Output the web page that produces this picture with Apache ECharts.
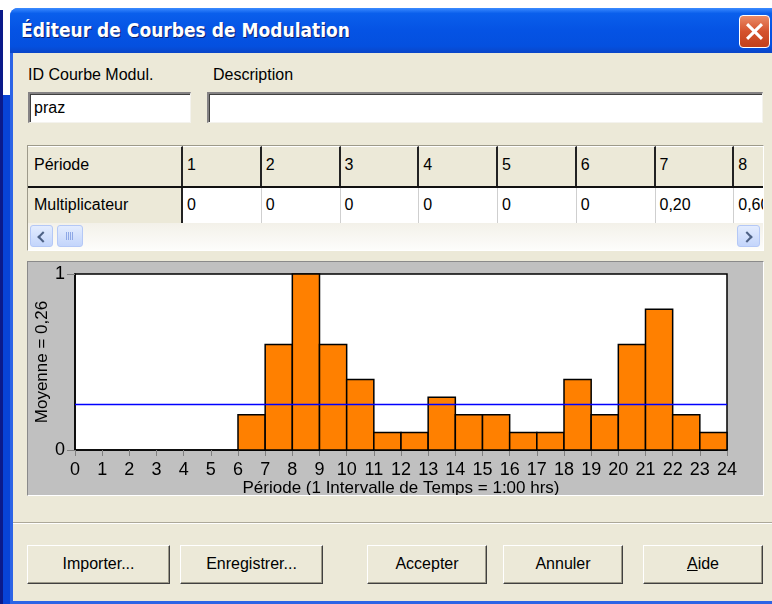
<!DOCTYPE html>
<html>
<head>
<meta charset="utf-8">
<title>Éditeur de Courbes de Modulation</title>
<script src="https://cdn.jsdelivr.net/npm/echarts@6/dist/echarts.min.js"></script>
<style>
  body { margin: 0; width: 772px; height: 604px; overflow: hidden; background: #fff; position: relative;
         font-family: "Liberation Sans", Arial, sans-serif; font-size: 16px; color: #000; }
  .abs { position: absolute; }
  .lbl { position: absolute; line-height: 20px; white-space: nowrap; }
  .field { position: absolute; background: #fff; box-sizing: border-box;
           border-top: 2px solid #848284; border-left: 2px solid #848284;
           border-bottom: 1px solid #f4f3ee; border-right: 1px solid #f4f3ee;
           box-shadow: inset 1px 1px #404040; padding: 5px 4px; }
  .cell { position: absolute; box-sizing: border-box; padding: 0 6px; line-height: 20px;
          white-space: nowrap; overflow: hidden; }
  .btn { position: absolute; top: 545px; height: 39px; box-sizing: border-box; background: #ece9d8;
         border-top: 1px solid #fff; border-left: 1px solid #fff;
         border-right: 1px solid #404040; border-bottom: 1px solid #404040;
         box-shadow: inset -1px -1px #9d9a8a; text-align: center; line-height: 36px; }
  .sbtn { position: absolute; top: 2px; width: 23px; height: 22px; box-sizing: border-box;
          border: 1px solid #b4c8f6; border-radius: 3px;
          background: linear-gradient(#e3ecfe, #c3d5fb); }
  .chev { position: absolute; top: 7px; width: 6px; height: 6px;
          border-left: 2px solid #4d6185; border-bottom: 2px solid #4d6185; }
</style>
</head>
<body>
<!-- window chrome -->
<div class="abs" style="left:0;top:10px;width:3px;height:594px;background:#0b1a8a"></div>
<div class="abs" style="left:3px;top:95px;width:7px;height:509px;background:#0843d6"></div>
<div class="abs" style="left:10px;top:8px;width:770px;height:596px;background:#2c64e6;border-radius:8px 8px 0 0"></div>
<div class="abs" style="left:10px;top:8px;width:770px;height:45px;border-radius:8px 8px 0 0;
     background:linear-gradient(#3b8bff 0%, #0a5fec 12%, #0553e4 50%, #0450df 85%, #0a45c8 100%)"></div>
<div class="abs" style="left:21px;top:16px;color:#fff;font-family:'DejaVu Sans Condensed','DejaVu Sans',sans-serif;
     font-weight:bold;font-size:19px;line-height:28px;text-shadow:1px 1px 0 #0a1e6e;white-space:nowrap">Éditeur de Courbes de Modulation</div>
<div class="abs" style="left:739px;top:15px;width:31px;height:33px;box-sizing:border-box;border:1px solid #fff;border-radius:4px;
     background:linear-gradient(#ea8a66,#d5532d 50%,#c1401b)">
  <div class="abs" style="left:13px;top:5px;width:3px;height:21px;background:#fff;transform:rotate(45deg)"></div>
  <div class="abs" style="left:13px;top:5px;width:3px;height:21px;background:#fff;transform:rotate(-45deg)"></div>
</div>
<div class="abs" style="left:13px;top:53px;width:759px;height:548px;background:#ece9d8"></div>

<!-- header fields -->
<div class="lbl" style="left:28px;top:65px">ID Courbe Modul.</div>
<div class="lbl" style="left:213px;top:65px">Description</div>
<div class="field" style="left:28px;top:92px;width:163px;height:31px">praz</div>
<div class="field" style="left:207px;top:92px;width:556px;height:31px"></div>

<!-- table of periods -->
<div id="grid" class="abs" style="left:27px;top:145px;width:737px;height:106px;box-sizing:border-box;overflow:hidden;
     border-top:1px solid #9d9a8a;border-left:1px solid #9d9a8a;border-bottom:1px solid #fff;border-right:1px solid #fff;background:#ece9d8"></div>

<!-- chart panel -->
<div class="abs" style="left:27px;top:261px;width:737px;height:235px;box-sizing:border-box;background:#c0c0c0;
     border-top:1px solid #8a8a8a;border-left:1px solid #8a8a8a;border-bottom:1px solid #fff;border-right:1px solid #fff">
  <div id="chart" style="width:735px;height:233px"></div>
</div>

<div class="abs" style="left:13px;top:522px;width:759px;height:0;border-top:1px solid #aca899;border-bottom:1px solid #fff"></div>

<div class="btn" style="left:27px;width:143px">Importer...</div>
<div class="btn" style="left:180px;width:143px">Enregistrer...</div>
<div class="btn" style="left:367px;width:120px">Accepter</div>
<div class="btn" style="left:503px;width:120px">Annuler</div>
<div class="btn" style="left:643px;width:120px"><u>A</u>ide</div>

<script>
// chart data
var periods = [1, 2, 3, 4, 5, 6, 7, 8, 9, 10, 11, 12, 13, 14, 15, 16, 17, 18, 19, 20, 21, 22, 23, 24];
var multipliers = [0, 0, 0, 0, 0, 0, 0.2, 0.6, 1, 0.6, 0.4, 0.1, 0.1, 0.3, 0.2, 0.2, 0.1, 0.1, 0.4, 0.2, 0.6, 0.8, 0.2, 0.1];
var xTicks = [0, 24];
var yTicks = [0, 1];

var total = 0;
for (var k = 0; k < multipliers.length; k++) total += multipliers[k];
var mean = total / multipliers.length;

function frNum(v) {
  if (v === 0) return "0";
  return v.toFixed(2).replace(".", ",");
}

// table (only the first columns are visible, rest is clipped)
function buildTable() {
  var grid = document.getElementById("grid");
  var html = "";
  var firstW = 155, colW = 78.75;
  // header row
  html += '<div class="cell" style="left:0;top:0;width:' + firstW + 'px;height:40px;line-height:36px;border-right:2px solid #222;border-top:1px solid #fff">Période</div>';
  for (var i = 0; i < 8; i++) {
    var x = firstW + i * colW;
    html += '<div class="cell" style="left:' + x + 'px;top:0;width:' + colW + 'px;height:40px;line-height:36px;padding-left:4px;border-right:2px solid #222;border-top:1px solid #fff">' + periods[i] + '</div>';
  }
  html += '<div class="abs" style="left:0;top:40px;width:740px;height:2px;background:#111"></div>';
  // multiplier row
  html += '<div class="cell" style="left:0;top:42px;width:' + firstW + 'px;height:35px;line-height:33px;border-right:2px solid #222">Multiplicateur</div>';
  for (var j = 0; j < 8; j++) {
    var x2 = firstW + j * colW;
    html += '<div class="cell" style="left:' + x2 + 'px;top:42px;width:' + colW + 'px;height:35px;line-height:33px;padding-left:4px;background:#fff;border-right:1px solid #cfcfcf">' + frNum(multipliers[j]) + '</div>';
  }
  // horizontal scrollbar
  html += '<div class="abs" style="left:0;top:77px;width:735px;height:27px;background:linear-gradient(#f3f1e9,#fdfdfb)">' +
          '<div class="sbtn" style="left:2px"><div class="chev" style="left:8px;transform:rotate(45deg)"></div></div>' +
          '<div class="sbtn" style="left:29px;width:26px;background:linear-gradient(90deg,transparent 8px,#8ea8e6 8px,#8ea8e6 9px,transparent 9px,transparent 10px,#8ea8e6 10px,#8ea8e6 11px,transparent 11px,transparent 12px,#8ea8e6 12px,#8ea8e6 13px,transparent 13px,transparent 14px,#8ea8e6 14px,#8ea8e6 15px,transparent 15px) center/100% 8px no-repeat,linear-gradient(#e3ecfe,#c3d5fb)"></div>' +
          '<div class="sbtn" style="left:709px"><div class="chev" style="left:5px;transform:rotate(-135deg)"></div></div>' +
          '</div>';
  grid.innerHTML = html;
}
buildTable();

var chart = echarts.init(document.getElementById("chart"));
var option = {
  animation: false,
  backgroundColor: "#c0c0c0",
  textStyle: { fontFamily: "Liberation Sans, Arial, sans-serif" },
  grid: {
    left: 47, top: 12, width: 652, height: 176,
    outerBoundsMode: "none",
    containLabel: false,
    show: true, backgroundColor: "#fff", borderColor: "#000", borderWidth: 1.5
  },
  xAxis: {
    type: "value",
    min: xTicks[0], max: xTicks[1], interval: 1,
    name: "Période (1 Intervalle de Temps = 1:00 hrs)",
    nameLocation: "middle",
    nameMoveOverlap: false,
    nameGap: 30,
    nameTextStyle: { fontSize: 17, color: "#000" },
    axisLine: { show: true, lineStyle: { color: "#000", width: 1.5 } },
    axisTick: { show: true, length: 6, lineStyle: { color: "#808080" } },
    axisLabel: { fontSize: 18, color: "#000", margin: 11 },
    splitLine: { show: false }
  },
  yAxis: {
    type: "value",
    min: yTicks[0], max: yTicks[1], interval: 1,
    name: "Moyenne = " + frNum(mean),
    nameLocation: "middle",
    nameMoveOverlap: false,
    nameRotate: 90,
    nameGap: 24,
    nameTextStyle: { fontSize: 17, color: "#000" },
    axisLine: { show: true, lineStyle: { color: "#000", width: 1.5 } },
    axisTick: { show: true, length: 8, lineStyle: { color: "#808080" } },
    axisLabel: { fontSize: 18, color: "#000", margin: 10 },
    splitLine: { show: false }
  },
  series: [
    {
      type: "custom",
      encode: { x: 0, y: 1 },
      data: periods.map(function (p, i) { return [p, multipliers[i]]; }),
      renderItem: function (params, api) {
        var p = api.value(0), v = api.value(1);
        if (!v) return null;
        var top = api.coord([p - 1, v]);
        var bottom = api.coord([p, 0]);
        return {
          type: "rect",
          shape: { x: top[0], y: top[1], width: bottom[0] - top[0], height: bottom[1] - top[1] },
          style: { fill: "#ff8000", stroke: "#000", lineWidth: 1.5 }
        };
      }
    },
    {
      type: "line",
      data: [[xTicks[0], mean], [xTicks[1], mean]],
      symbol: "none",
      z: 5,
      lineStyle: { color: "#0000ff", width: 1.5 }
    }
  ]
};
chart.setOption(option);
</script>
</body>
</html>
